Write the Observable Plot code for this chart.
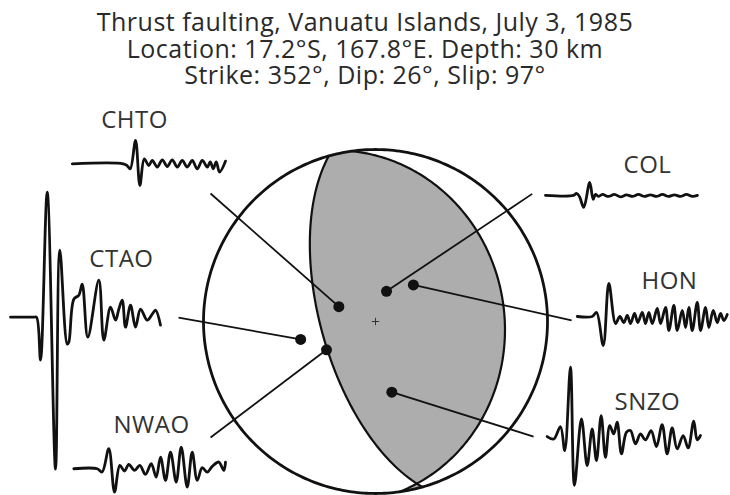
<!DOCTYPE html>
<html>
<head>
<meta charset="utf-8">
<script src="https://cdn.jsdelivr.net/npm/d3@7"></script>
<script src="https://cdn.jsdelivr.net/npm/@observablehq/plot@0.6"></script>
<style>
  body { margin: 0; background: #fff; }
  #title {
    width: 730px; height: 95px; box-sizing: border-box; padding-top: 8px; margin: 0;
    text-align: center; color: #2a2a2a; font-family: "Open Sans", "Noto Sans", sans-serif;
    font-size: 25px; line-height: 26.5px; letter-spacing: 0.5px; font-weight: normal;
  }
  #chart svg { display: block; }
</style>
</head>
<body>
<h1 id="title">Thrust faulting, Vanuatu Islands, July 3, 1985<br>Location: 17.2°S, 167.8°E. Depth: 30 km<br>Strike: 352°, Dip: 26°, Slip: 97°</h1>
<div id="chart"></div>
<script>
// Fault plane solution (degrees)
const strike = 352, dip = 26, slip = 97;

// Stations: azimuth from the source and take-off angle (degrees)
const stations = ["CHTO", "COL", "HON", "CTAO", "NWAO", "SNZO"];
const azimuth  = [292, 20, 46, 256.5, 240, 167];
const takeoff  = [18.7, 15.2, 25, 36.9, 26.9, 34.7];

// P-wave seismograms: [time, amplitude] vertices
const traceCHTO = [[0,0],[51,0],[55,-2],[58,-5],[63.3,23.3],[67.6,-21.7],[72,5],[76.5,-1.7],[80,3.3],[85,-3.3],[90,4],[95,-2.7],[100,4],[105,-3.3],[110,3.3],[115,-3.3],[120,3.3],[125,-5],[130,3.3],[135,-3.3],[138,2],[141,-5],[144,2],[147.3,-8.3],[153.3,2.7]];
const traceCOL  = [[0,0],[28,0],[31,2],[34,-1],[38.3,-12],[44.3,13],[47.7,-4],[50,1],[53,-1],[57,1],[63,-1],[69,1],[75,-1.5],[81,0.5],[87,-1],[93,1],[99,-1],[105,0.5],[111,-1],[117,1],[123,-1],[129,0.5],[135,-1],[141,1],[147,-1],[152,0]];
const traceHON  = [[0,0],[15,0],[19.3,4],[26,-29],[31.6,33],[38.3,-7],[42.6,0],[46.6,-6],[50,1],[53.3,-7],[57.3,3],[60.6,-6],[65,4],[68.3,-7],[71.6,4],[75,-7],[80,8],[83.3,-7],[88.3,9],[91.6,-14],[96.6,11],[100,-14],[105,6],[108.3,-11],[111.6,9],[115,-14],[120,14],[123.3,-14],[128.3,9],[131.6,-11],[136,6],[140,-6],[143.3,3],[146.6,-4],[150,2]];
const traceCTAO = [[0,0],[23,0],[26,0],[30,-43],[36.7,125],[45,-152],[49.3,67],[56.7,-27],[58.3,-25],[63.3,18],[68.3,22],[71.7,33],[77.3,-20],[88.3,37],[93.3,-23],[100,10],[105,-3],[108.3,8],[111.7,17],[115,-10],[120,12],[125,-10],[130,8],[136.7,-3],[141.7,3],[145,7],[150,-8]];
const traceNWAO = [[0,0],[23.3,0],[28.3,-3.3],[35,20],[40.7,-23.3],[46,3.3],[50.7,-2.3],[55,4.3],[60.7,-1.7],[66,3.3],[71.7,-5.7],[77.4,5],[82.4,-8.3],[86.7,11.7],[91.7,-11.7],[96.7,16.7],[102.4,-13.3],[107.4,21.7],[113.4,-18.3],[118.4,16.7],[123.4,-11.7],[128.4,1],[133.4,-3.3],[138.4,2.3],[145,6.7],[150,-1.7],[151.7,6.7]];
const traceSNZO = [[0,0.7],[6.6,-1.7],[13.3,10.7],[17.6,-13.3],[23.3,70],[27.3,-48],[34.3,18.3],[40,-28.3],[45,8.3],[49.3,-23.3],[54,21.7],[58.3,-20],[62.6,11.7],[66.6,3.3],[70,15],[74.3,-16.7],[79.3,5],[83.3,6.7],[88.3,-6.7],[93.3,3.3],[98.3,-2.7],[104,6.7],[109.3,-9.3],[115,12.7],[120,-16.7],[125,9.3],[130,-11.7],[136,1.7],[141,-10.7],[146.6,16],[150,-2.7],[153.3,1.7]];
const traces = [traceCHTO, traceCOL, traceHON, traceCTAO, traceNWAO, traceSNZO];

// ---- layout (units of the focal-sphere radius) ----
const W = 730, H = 400, R = 172, cx = 375, cy = 226;
const traceOrigin = [[-1.763, 0.917], [0.988, 0.733], [1.173, 0.029], [-2.122, 0.025], [-1.754, -0.856], [0.998, -0.673]];
const leaderEnd   = [[-0.959, 0.744], [0.911, 0.742], [1.140, 0.006], [-1.145, 0.023], [-0.959, -0.674], [0.919, -0.669]];
const labelPos    = [[-1.401, 1.169], [1.581, 0.907], [1.709, 0.233], [-1.477, 0.360], [-1.302, -0.605], [1.581, -0.471]];

// ---- geometry ----
const rad = Math.PI / 180;
// Lambert equal-area projection of the lower focal hemisphere
function proj(az, inc) {
  const r = Math.SQRT2 * Math.sin(inc * rad / 2);
  return [r * Math.sin(az * rad), r * Math.cos(az * rad)];
}
// Great circle of a nodal plane, from its strike round through the dip direction
function planeArc(s, d) {
  const pts = [];
  for (let k = 0; k <= 180; k += 1) {
    const a = Math.atan(Math.tan(d * rad) * Math.sin(k * rad)) / rad;
    pts.push(proj(s + k, 90 - a));
  }
  return pts;
}
// Auxiliary plane from strike/dip/slip (slip vector = its normal)
function auxPlane(s, d, r) {
  s *= rad; d *= rad; r *= rad;
  let u = [
    Math.cos(r) * Math.cos(s) + Math.sin(r) * Math.cos(d) * Math.sin(s),
    Math.cos(r) * Math.sin(s) - Math.sin(r) * Math.cos(d) * Math.cos(s),
    -Math.sin(r) * Math.sin(d)
  ];
  if (u[2] > 0) u = u.map(v => -v);
  const d2 = Math.acos(-u[2]) / rad;
  const s2 = (Math.atan2(-u[0], u[1]) / rad + 360) % 360;
  return [s2, d2];
}
function primitive(a0, a1) {
  const pts = [], n = Math.max(2, Math.ceil(Math.abs(a1 - a0)));
  for (let k = 0; k <= n; k++) pts.push(proj(a0 + (a1 - a0) * k / n, 90));
  return pts;
}

const [strike2, dip2] = auxPlane(strike, dip, slip);
const arc1 = planeArc(strike, dip);
const arc2 = planeArc(strike2, dip2);
const circle = primitive(0, 360);
// Compressional lune: plane 1, along the rim, plane 2, back along the rim
const lens = [
  ...arc1,
  ...primitive(strike + 180, strike2),
  ...arc2,
  ...primitive(strike2 + 180, strike + 360)
];

const stationPts = stations.map((name, i) => {
  const [x, y] = proj(azimuth[i], takeoff[i]);
  return {name, x, y, x2: leaderEnd[i][0], y2: leaderEnd[i][1], lx: labelPos[i][0], ly: labelPos[i][1]};
});
const tracePts = traces.flatMap((tr, i) =>
  tr.map(([t, a]) => ({name: stations[i], x: traceOrigin[i][0] + t / R, y: traceOrigin[i][1] + a / R}))
);

const xy = p => ({x: p[0], y: p[1]});

const plot = Plot.plot({
  width: W, height: H,
  margin: 0,
  x: {domain: [-cx / R, (W - cx) / R], range: [0, W], axis: null},
  y: {domain: [-(H - cy) / R, cy / R], range: [H, 0], axis: null},
  style: {fontFamily: "'Open Sans', 'Noto Sans', sans-serif", background: "#fff", letterSpacing: "0.5px"},
  marks: [
    Plot.line(lens.map(xy), {x: "x", y: "y", fill: "#adadad", stroke: "none", curve: "linear"}),
    Plot.line(arc1.map(xy), {x: "x", y: "y", stroke: "#111", strokeWidth: 2.2}),
    Plot.line(arc2.map(xy), {x: "x", y: "y", stroke: "#111", strokeWidth: 2.2}),
    Plot.line(circle.map(xy), {x: "x", y: "y", stroke: "#111", strokeWidth: 2.8}),
    Plot.link(stationPts, {x1: "x", y1: "y", x2: "x2", y2: "y2", stroke: "#111", strokeWidth: 1.8}),
    Plot.dot(stationPts, {x: "x", y: "y", r: 5.5, fill: "#111", stroke: "none"}),
    Plot.dot([{x: 0, y: 0}], {x: "x", y: "y", symbol: "plus", r: 2.5, stroke: "#333", strokeWidth: 1}),
    Plot.line(tracePts, {x: "x", y: "y", z: "name", stroke: "#111", strokeWidth: 2.8, strokeLinejoin: "round", strokeLinecap: "round", curve: "catmull-rom"}),
    Plot.text(stationPts, {x: "lx", y: "ly", text: "name", fontSize: 24, fill: "#333", textAnchor: "middle", lineAnchor: "middle"})
  ]
});
document.getElementById("chart").appendChild(plot);
</script>
</body>
</html>
